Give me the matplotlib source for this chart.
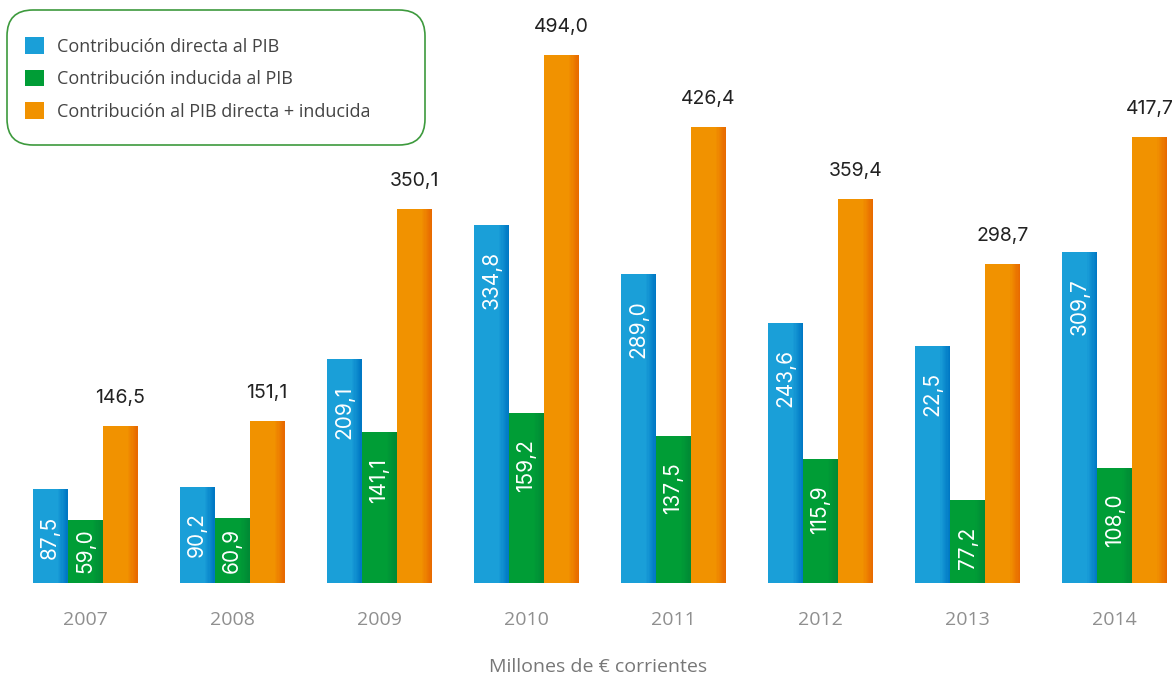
import numpy as np
import matplotlib.pyplot as plt
from matplotlib.colors import to_rgb
from matplotlib.patches import FancyBboxPatch

plt.rcParams['font.family'] = ['Open Sans', 'DejaVu Sans']

years = ['2007', '2008', '2009', '2010', '2011', '2012', '2013', '2014']
directa = [87.5, 90.2, 209.1, 334.8, 289.0, 243.6, 221.5, 309.7]
inducida = [59.0, 60.9, 141.1, 159.2, 137.5, 115.9, 77.2, 108.0]
total = [146.5, 151.1, 350.1, 494.0, 426.4, 359.4, 298.7, 417.7]
# labels as printed in the original (2013 is printed as "22,5")
directa_txt = ['87,5', '90,2', '209,1', '334,8', '289,0', '243,6', '22,5', '309,7']
inducida_txt = ['59,0', '60,9', '141,1', '159,2', '137,5', '115,9', '77,2', '108,0']
total_txt = ['146,5', '151,1', '350,1', '494,0', '426,4', '359,4', '298,7', '417,7']

names = ['Contribución directa al PIB', 'Contribución inducida al PIB',
         'Contribución al PIB directa + inducida']
colors = ['#1a9fd8', '#009d36', '#f19200']
dark = ['#0078c4', '#008a35', '#e86a00']
numfont = ['Inter', 'DejaVu Sans']

fig = plt.figure(figsize=(11.74, 6.75), dpi=100)
ax = fig.add_axes([0, 92 / 675, 1, 583 / 675])
ax.patch.set_visible(False)
x = np.arange(len(years))
w = 0.238


def stripe(ax, xs, vals, width, c1, c2):
    # darker gradient on the right edge of every bar
    c1 = np.array(to_rgb(c1))
    c2 = np.array(to_rgb(c2))
    n = 8
    sw = width * 0.28 / n
    for i in range(n):
        t = (i + 1) / n
        col = c1 * (1 - t) + c2 * t
        left = xs + width / 2 - width * 0.28 + i * sw
        ax.bar(left, vals, sw * 1.05, align='edge', color=col, linewidth=0)


series = [directa, inducida, total]
handles = []
for k, vals in enumerate(series):
    xs = x + (k - 1) * w
    b = ax.bar(xs, vals, w, color=colors[k], linewidth=0, label=names[k])
    stripe(ax, xs, vals, w, colors[k], dark[k])
    handles.append(b)

ax.set_xlim(-0.578, 7.403)
ax.set_ylim(0, 545.4)

inner = []
for i in range(len(years)):
    t1 = ax.annotate(directa_txt[i], (x[i] - w, directa[i]), xytext=(0, -26),
                     textcoords='offset pixels', rotation=90, ha='center', va='top',
                     color='white', fontsize=15, family=numfont)
    t2 = ax.annotate(inducida_txt[i], (x[i], inducida[i]), xytext=(0, -26),
                     textcoords='offset pixels', rotation=90, ha='center', va='top',
                     color='white', fontsize=15, family=numfont)
    inner += [t1, t2]
    ax.annotate(total_txt[i], (x[i] + w, total[i]), xytext=(0, 23),
                textcoords='offset pixels', ha='center', va='baseline',
                color='#222222', fontsize=14, family=numfont)

# short bars: push the label up so it stays inside the bar
fig.canvas.draw()
base = ax.transData.transform((0, 0))[1]
for t in inner:
    bb = t.get_window_extent()
    if bb.y0 < base + 10:
        ox, oy = t.xyann
        t.xyann = (ox, oy + (base + 10 - bb.y0))

ax.set_yticks([])
ax.set_xticks(x)
ax.set_xticklabels(years, color='#8f8f8f', fontsize=14)
ax.tick_params(axis='x', length=0, pad=20)
for s in ax.spines.values():
    s.set_visible(False)

fig.text(598 / 1174, 1 - 667 / 675, 'Millones de € corrientes',
         ha='center', va='center', color='#777777', fontsize=14)

# rounded green box behind the legend
box = FancyBboxPatch((7, 675 - 145), 418, 135, boxstyle='round,pad=0,rounding_size=26',
                     transform=None, facecolor='white', edgecolor='#3d9a3d',
                     linewidth=1.2, zorder=-1)
fig.patches.append(box)

leg = ax.legend(handles=handles, loc='upper left',
                bbox_to_anchor=(25 / 1174, 1 - 37 / 583),
                frameon=False, fontsize=13, labelcolor='#444444',
                handlelength=1.05, handleheight=1.05, handletextpad=0.72,
                labelspacing=0.78, borderpad=0, borderaxespad=0)

fig.savefig('out.png', dpi=100)
